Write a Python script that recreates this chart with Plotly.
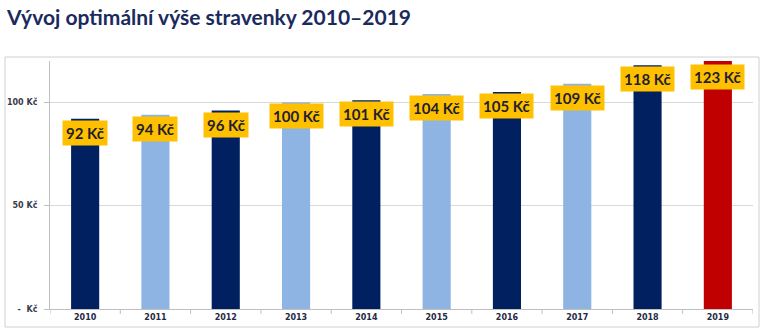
import plotly.graph_objects as go

years = ["2010", "2011", "2012", "2013", "2014", "2015", "2016", "2017", "2018", "2019"]
values = [92, 94, 96, 100, 101, 104, 105, 109, 118, 123]
labels = ["92 Kč", "94 Kč", "96 Kč", "100 Kč", "101 Kč", "104 Kč", "105 Kč", "109 Kč", "118 Kč", "123 Kč"]
colors = ["#002060", "#8DB4E2", "#002060", "#8DB4E2", "#002060",
          "#8DB4E2", "#002060", "#8DB4E2", "#002060", "#C00000"]
tick_vals = [0, 50, 100]
tick_text = ["-  Kč", "50 Kč", "100 Kč"]
y_max = 120

W, H = 766, 333
L, R, T, B = 50, 13, 61, 24
pw, ph = W - L - R, H - T - B

idx = list(range(len(years)))

fig = go.Figure()
fig.add_trace(go.Bar(
    x=idx, y=values, marker_color=colors, width=0.4,
    marker_line_width=0, hoverinfo="skip", showlegend=False,
))

for i, v, t in zip(idx, values, labels):
    fig.add_annotation(
        x=i, y=min(v, y_max), text=t, showarrow=False, yanchor="top",
        yshift=-1 if v <= y_max else -3,
        bgcolor="#FFC000", borderpad=3,
        font=dict(family="Lato", size=15, color="#1F1F2F", weight="bold"),
    )

# outer chart border
fig.add_shape(
    type="rect", xref="paper", yref="paper",
    x0=(5 - L) / pw, x1=(759 - L) / pw,
    y0=(H - B - 327) / ph, y1=(H - B - 57) / ph,
    line=dict(color="#D0D0D0", width=1), fillcolor="rgba(0,0,0,0)", layer="below",
)
# category boundary ticks on x axis
for k in range(len(years) + 1):
    fig.add_shape(
        type="line", xref="x", yref="paper", x0=k - 0.5, x1=k - 0.5,
        y0=0, y1=-5 / ph, line=dict(color="#BFBFBF", width=1),
    )

fig.update_layout(
    width=W, height=H,
    margin=dict(l=L, r=R, t=T, b=B, autoexpand=False),
    paper_bgcolor="white", plot_bgcolor="white",
    title=dict(
        text="Vývoj optimální výše stravenky 2010–2019",
        x=7 / W, xanchor="left", xref="container",
        y=1 - 18 / H, yanchor="middle", yref="container",
        font=dict(family="Lato", size=21, color="#1B2A5E", weight="bold"),
    ),
    xaxis=dict(
        range=[-0.5, len(years) - 0.5], tickvals=idx, ticktext=years,
        showline=True, linecolor="#BFBFBF", linewidth=1,
        ticks="", ticklen=0,
        tickfont=dict(family="DejaVu Sans", size=8, color="#1F2A44", weight="bold"),
        showgrid=False, zeroline=False, fixedrange=True,
    ),
    yaxis=dict(
        range=[0, y_max], tickvals=tick_vals, ticktext=tick_text,
        showline=True, linecolor="#BFBFBF", linewidth=1,
        ticks="outside", ticklen=5, tickcolor="#BFBFBF", ticklabelstandoff=5,
        showgrid=True, gridcolor="#D9D9D9", gridwidth=1,
        tickfont=dict(family="DejaVu Sans", size=8, color="#3A3A4A", weight="bold"),
        zeroline=False, fixedrange=True,
    ),
)

fig.write_html("out.html")
